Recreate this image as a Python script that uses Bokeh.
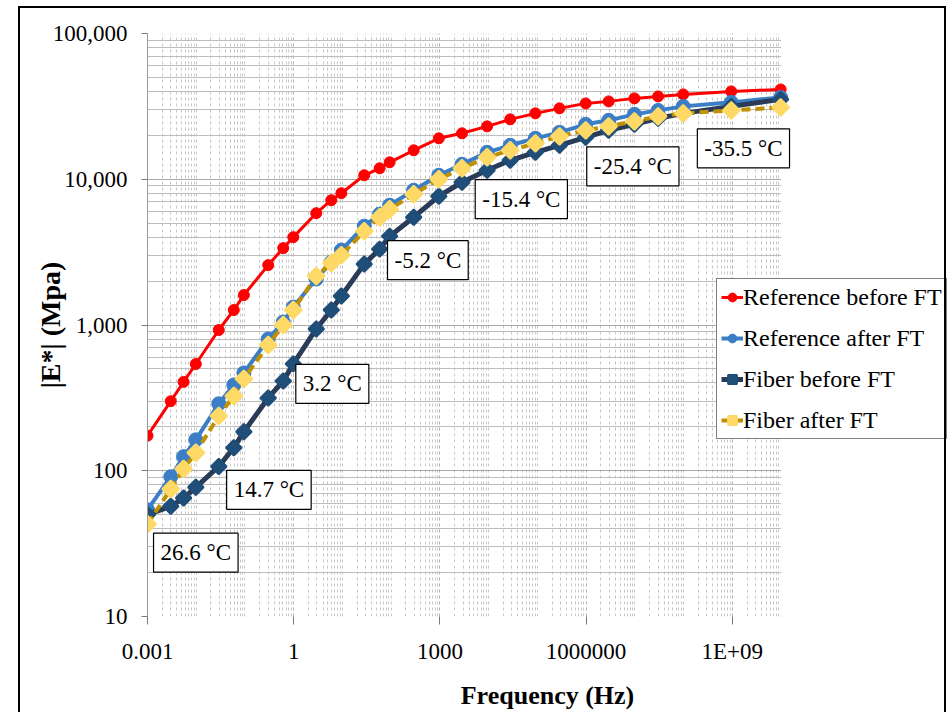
from bokeh.plotting import figure
from bokeh.models import (Range1d, FixedTicker, CustomJSTickFormatter, Label,
                          Legend, LegendItem, InlineStyleSheet, BoxAnnotation)
from bokeh.embed import file_html
from bokeh.resources import INLINE

# ---------------- data ----------------
freq = [0.001, 0.003, 0.0055, 0.0098, 0.029, 0.059, 0.095, 0.30, 0.61, 0.98,
        2.9, 5.9, 9.5, 28, 58, 93, 290, 950, 2840, 9300,
        27700, 91000, 2.84e5, 9.8e5, 2.9e6, 9.8e6, 3.0e7, 9.8e7, 9.5e8, 9.8e9]

ref_before = [174, 300, 407, 540, 924, 1267, 1605, 2576, 3369, 4006,
              5850, 7180, 8020, 10650, 11890, 13070, 15800, 19090, 20660, 23070,
              25760, 28320, 30650, 33150, 34220, 35880, 37020, 38220, 40060, 41340]

ref_after = [54, 91, 125, 163, 288, 388, 469, 802, 1048, 1328,
             2066, 2701, 3264, 4766, 5758, 6635, 8406, 10650, 12670, 15300,
             17100, 19090, 20990, 23810, 25360, 27870, 29680, 31620, 33690, 36430]

fiber_before = [50, 57, 65, 77, 107, 144, 185, 316, 413, 541,
                939, 1267, 1580, 2617, 3315, 4069, 5492, 7648, 9539, 11520,
                13490, 15300, 17100, 19400, 21660, 23810, 26170, 28320, 31620, 35320]

fiber_after = [43, 75, 103, 133, 238, 326, 427, 730, 1000, 1267,
               2166, 2659, 3016, 4404, 5492, 6232, 7893, 10000, 11890, 14150,
               15800, 17640, 19700, 21660, 23070, 24970, 27010, 28320, 29680, 31130]

series_names = ["Reference before FT", "Reference after FT", "Fiber before FT", "Fiber after FT"]

temp_labels = ["26.6 \u00b0C", "14.7 \u00b0C", "3.2 \u00b0C", "-5.2 \u00b0C",
               "-15.4 \u00b0C", "-25.4 \u00b0C", "-35.5 \u00b0C"]
temp_freq = [0.0098, 0.31, 6.2, 566, 46800, 9.1e6, 1.69e9]
temp_mod = [27.4, 74, 394, 2786, 7295, 12270, 16300]

x_tick_vals = [0.001, 1, 1000, 1000000, 1e9]
x_tick_labels = ["0.001", "1", "1000", "1000000", "1E+09"]
y_tick_vals = [10, 100, 1000, 10000, 100000]
y_tick_labels = ["10", "100", "1,000", "10,000", "100,000"]

x_data_end = 1e10          # last frequency decade drawn with grid
x_view_end = 2.6e13        # frame extends right so the legend can sit over it

FONT = "Liberation Serif"

p = figure(width=949, height=712, x_axis_type="log", y_axis_type="log",
           x_range=Range1d(1e-3, x_view_end), y_range=Range1d(10, 1e5),
           output_backend="svg", toolbar_location=None,
           min_border_left=147, min_border_top=33, min_border_right=2,
           min_border_bottom=95)
p.outline_line_color = None
p.background_fill_color = "white"
p.border_fill_color = "white"

# outer black frame of the picture
p.stylesheets = [InlineStyleSheet(css=(
    ":host{position:relative;}"
    ":host::after{content:'';position:absolute;left:18px;top:6px;width:928px;"
    "height:706px;border:2px solid #000;border-bottom:none;box-sizing:border-box;"
    "pointer-events:none;}"))]

# ticks and grids
x_minor = [m * 10.0 ** k for k in range(-3, 10) for m in range(1, 10)] + [1e10]
y_minor = [m * 10.0 ** k for k in range(1, 5) for m in range(1, 10)]
p.xaxis.ticker = FixedTicker(ticks=x_tick_vals, minor_ticks=x_minor)
p.yaxis.ticker = FixedTicker(ticks=y_tick_vals, minor_ticks=y_minor)

fmt_code = """
let best = 0; let bd = 1e99;
for (let i = 0; i < vals.length; i++) {
  const d = Math.abs(Math.log10(vals[i]) - Math.log10(tick));
  if (d < bd) { bd = d; best = i; }
}
return labs[best];
"""
p.xaxis.formatter = CustomJSTickFormatter(args=dict(vals=x_tick_vals, labs=x_tick_labels), code=fmt_code)
p.yaxis.formatter = CustomJSTickFormatter(args=dict(vals=y_tick_vals, labs=y_tick_labels), code=fmt_code)

for ax in (p.xaxis, p.yaxis):
    ax.major_label_text_font = FONT
    ax.major_label_text_font_size = "23px"
    ax.major_label_text_color = "#000000"
    ax.major_tick_line_color = "#7a7a7a"
    ax.minor_tick_line_color = None
    ax.major_tick_in = 0
    ax.axis_label_text_font = FONT
    ax.axis_label_text_font_style = "bold"
    ax.axis_label_text_color = "#000000"

p.xaxis.axis_line_color = None
p.yaxis.axis_line_color = "#9a9a9a"

p.xaxis.major_tick_out = 8
p.xaxis.major_label_standoff = 14
p.xaxis.axis_label = "Frequency (Hz)"
p.xaxis.axis_label_text_font_size = "26px"
p.xaxis.axis_label_standoff = 14

p.yaxis.major_tick_out = 6
p.yaxis.major_label_standoff = 14
p.yaxis.axis_label = "|E*| (Mpa)"
p.yaxis.axis_label_text_font_size = "28px"
p.yaxis.axis_label_standoff = -16

p.xgrid.grid_line_color = "#b5b5b5"
p.xgrid.grid_line_dash = "3 3"
p.xgrid.minor_grid_line_color = "#c8c8c8"
p.xgrid.minor_grid_line_dash = "3 3"
p.ygrid.grid_line_color = "#a8a8a8"
p.ygrid.minor_grid_line_color = "#bdbdbd"

# blank area right of the last decade (grid stops at 1e10 in the original)
p.add_layout(BoxAnnotation(left=x_data_end, fill_color="white", fill_alpha=1.0,
                           line_color=None, level="underlay"))

ROT = 0.785398  # square turned into a diamond

# series
r1l = p.line(freq, ref_before, line_color="#FF0000", line_width=3)
r1s = p.scatter(freq, ref_before, marker="circle", size=11, fill_color="#FF0000", line_color="#FF0000")

r2l = p.line(freq, ref_after, line_color="#3B7EC6", line_width=4)
r2s = p.scatter(freq, ref_after, marker="circle", size=14, fill_color="#3B7EC6", line_color="#3B7EC6")

r3l = p.line(freq, fiber_before, line_color="#2A3B57", line_width=5)
r3s = p.scatter(freq, fiber_before, marker="square", angle=ROT, size=11,
                fill_color="#1F4E79", line_color="#1F4E79", line_width=2)

r4l = p.line(freq, fiber_after, line_color="#BF9000", line_width=4, line_dash="9 5")
r4s = p.scatter(freq, fiber_after, marker="square", angle=ROT, size=12,
                fill_color="#FFD966", line_color="#FFD966", line_width=2)

items = [LegendItem(label=series_names[0], renderers=[r1l, r1s]),
         LegendItem(label=series_names[1], renderers=[r2l, r2s]),
         LegendItem(label=series_names[2], renderers=[r3l, r3s]),
         LegendItem(label=series_names[3], renderers=[r4l, r4s])]
legend = Legend(items=items, location=(569, 177), padding=4, spacing=13, margin=0,
                glyph_width=22, glyph_height=22, label_standoff=0, label_height=28,
                label_text_font=FONT, label_text_font_size="24px",
                label_text_color="#000000",
                border_line_color="#000000", border_line_width=1.5,
                background_fill_color="white", background_fill_alpha=1.0)
p.add_layout(legend)

# temperature boxes
for t, fx, ey in zip(temp_labels, temp_freq, temp_mod):
    p.add_layout(Label(x=fx, y=ey, text=t, text_align="center", text_baseline="middle",
                       text_font=FONT, text_font_size="23px", text_color="#000000",
                       background_fill_color="white", background_fill_alpha=1.0,
                       border_line_color="#000000", border_line_width=1.2, padding=7))

open("out.html", "w").write(file_html(p, INLINE))
